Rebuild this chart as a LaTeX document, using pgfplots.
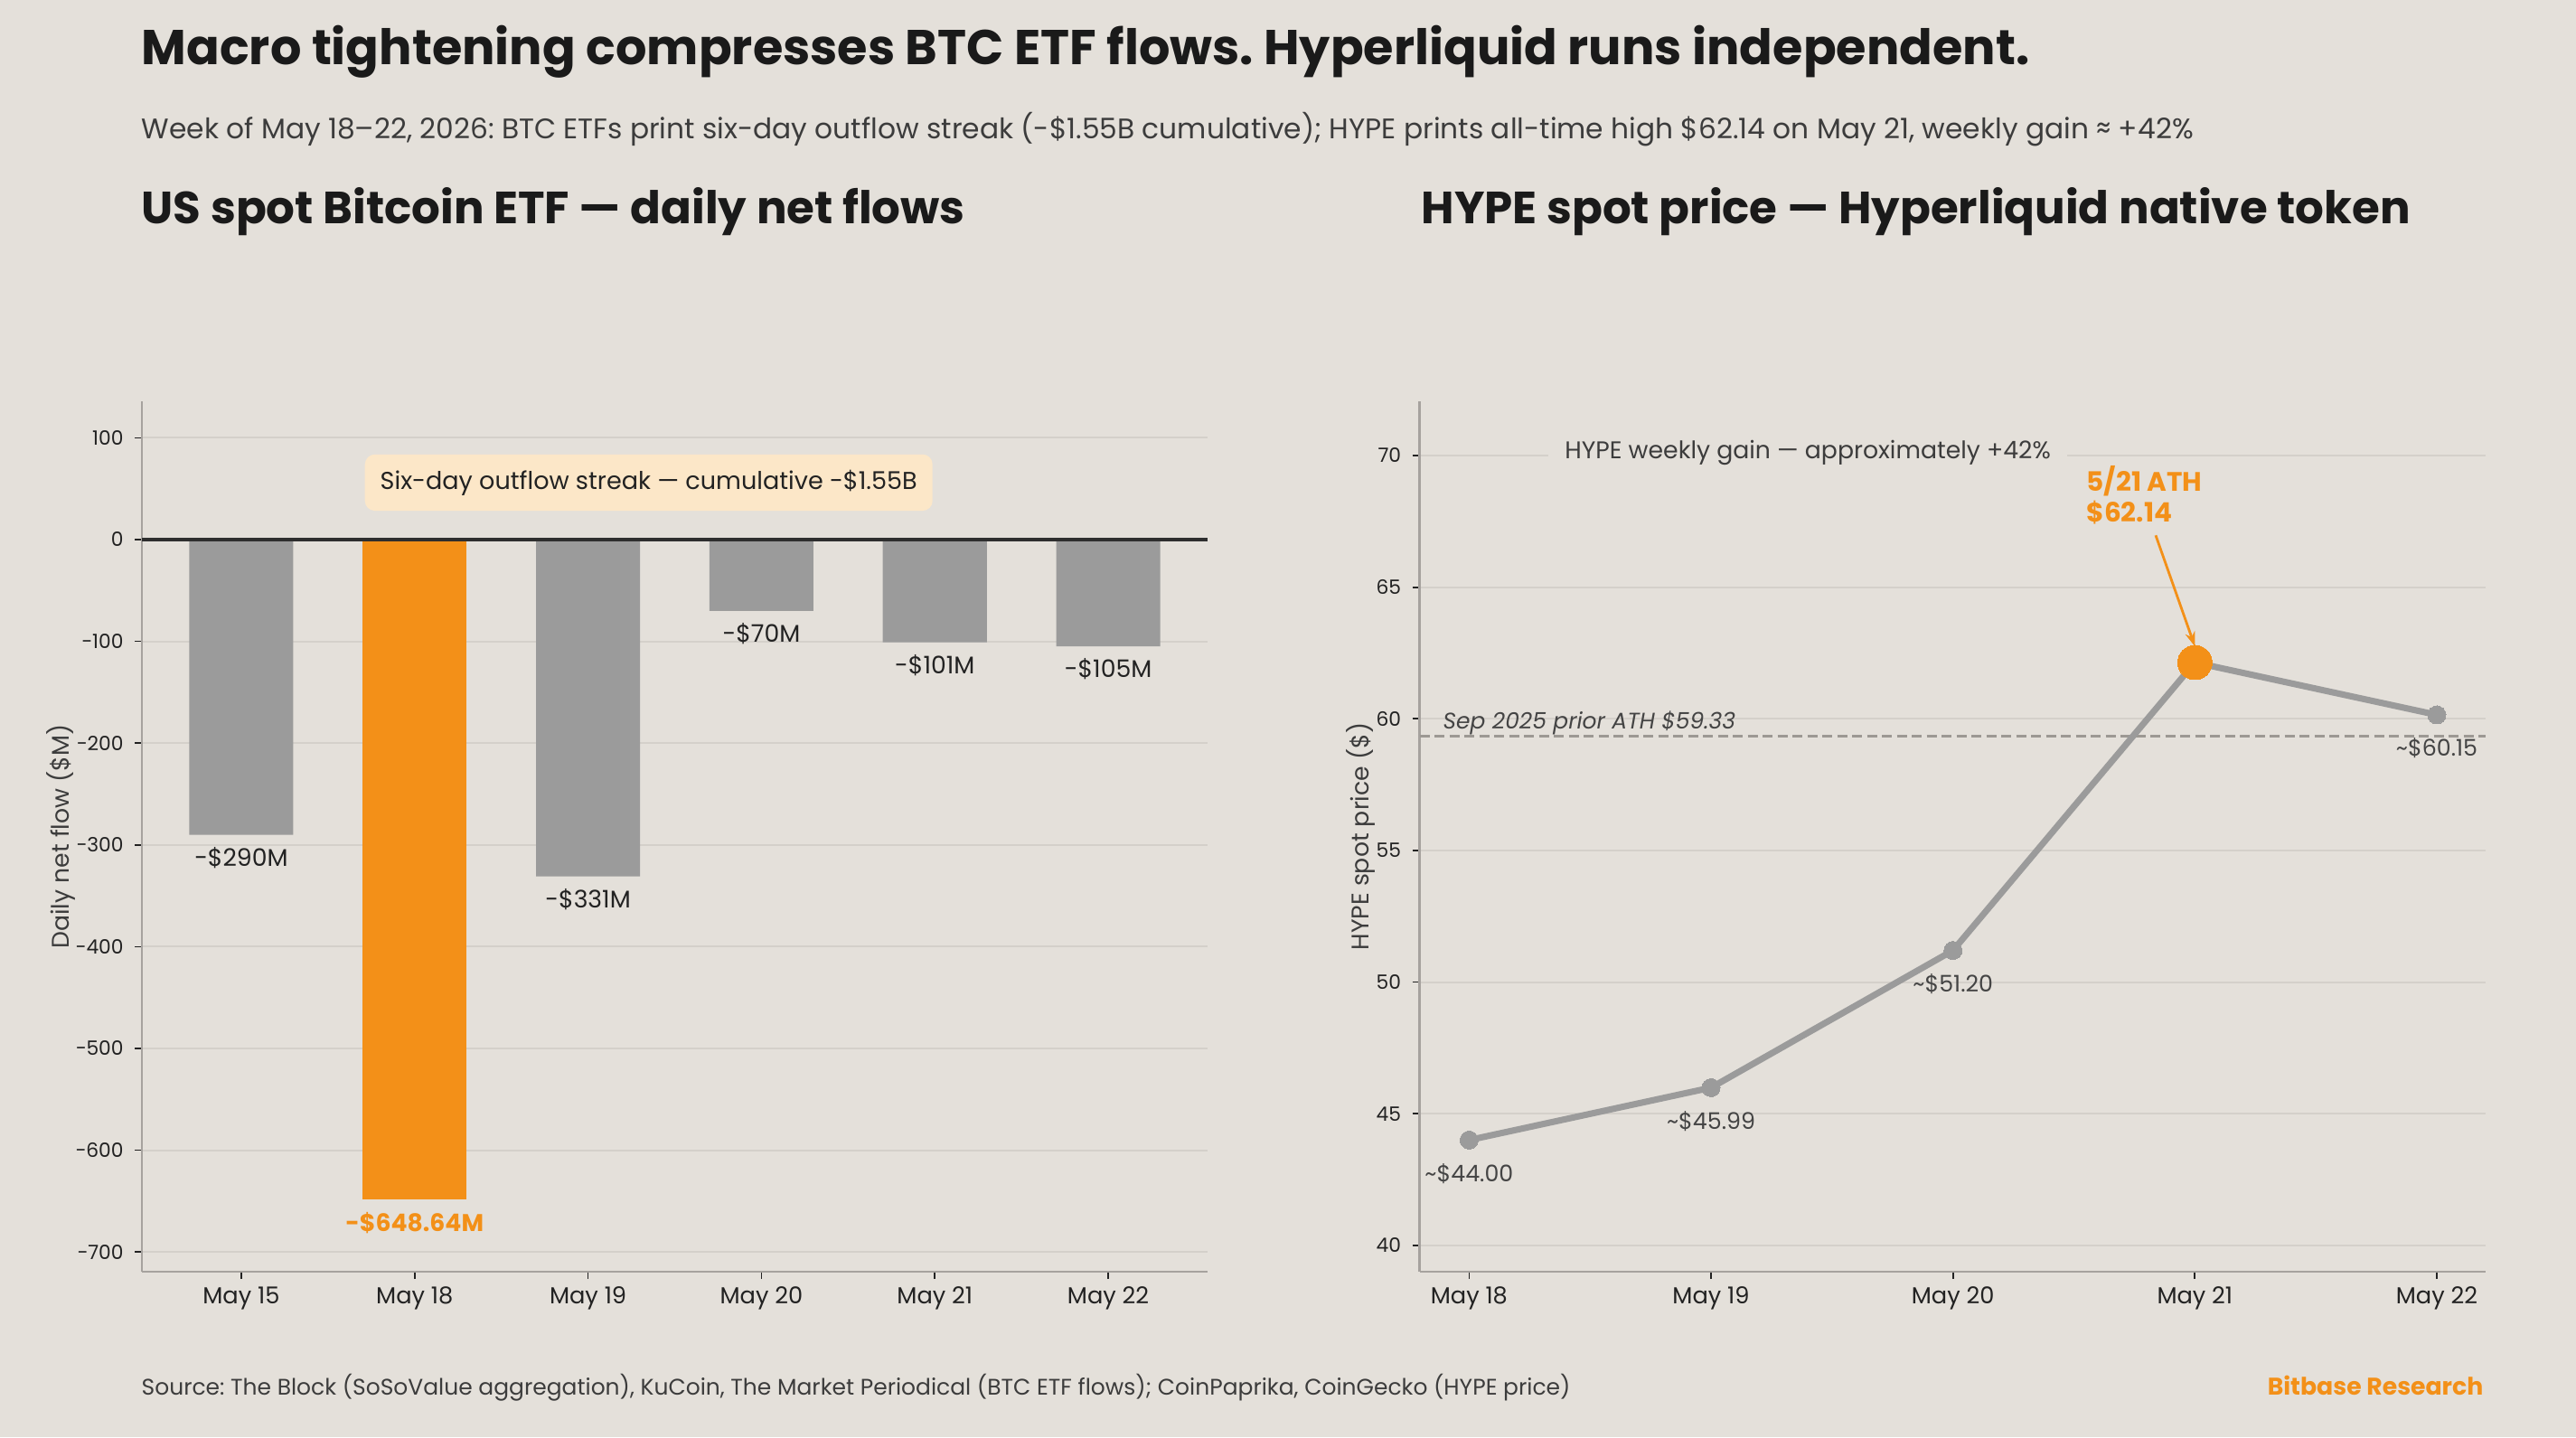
\documentclass[border=0pt]{standalone}
\usepackage{pgfplots}
\pgfplotsset{compat=1.18}
\usepackage{fontspec}
\setmainfont{Poppins}
\usetikzlibrary{arrows.meta}
\frenchspacing

\definecolor{bg}{HTML}{E4E0DA}
\definecolor{barg}{HTML}{9B9B9B}
\definecolor{orangec}{HTML}{F39018}
\definecolor{boxc}{HTML}{FCE7C8}
\definecolor{gridc}{HTML}{D4D0CA}
\definecolor{axisc}{HTML}{A6A29E}
\definecolor{titlec}{HTML}{1A1A1A}
\definecolor{subc}{HTML}{3C3C3C}
\definecolor{tickc}{HTML}{222222}
\definecolor{labc}{HTML}{444444}
\definecolor{zeroc}{HTML}{2E2E2E}
\definecolor{dashc}{HTML}{9C9893}

\pgfplotsset{
  myaxis/.style={
    scale only axis, width=117.9mm, height=96.3mm,
    axis x line*=bottom, axis y line*=left,
    axis line style={-, axisc, line width=0.6pt},
    ymajorgrids, grid style={gridc, line width=0.6pt},
    tick style={tickc, line width=0.5pt}, tick align=outside, major tick length=0.8mm,
    xticklabel style={font=\fontsize{7.3}{8.5}\selectfont, text=tickc, yshift=0.4mm},
    yticklabel style={font=\fontsize{6.2}{7.5}\selectfont, text=tickc},
    /pgf/number format/assume math mode=true,
    ylabel style={font=\fontsize{7.6}{9}\selectfont, text=subc, anchor=center},
    clip=false,
  }
}

\begin{document}
\begin{tikzpicture}
\fill[bg] (0,0) rectangle (285mm,159mm);
\useasboundingbox (0,0) rectangle (285mm,159mm);

\node[anchor=base west, inner sep=0, text=titlec, font=\fontsize{15.4}{18}\selectfont\bfseries] at (15.6mm,151.8mm) {Macro tightening compresses BTC ETF flows. Hyperliquid runs independent.};
\node[anchor=base west, inner sep=0, text=subc, font=\fontsize{8.9}{11}\selectfont] at (15.6mm,143.6mm) {Week of May 18–22, 2026: BTC ETFs print six-day outflow streak (-\$1.55B cumulative); HYPE prints all-time high \$62.14 on May 21, weekly gain ≈ +42\%};
\node[anchor=base west, inner sep=0, text=titlec, font=\fontsize{14.2}{17}\selectfont\bfseries] at (15.6mm,134.2mm) {US spot Bitcoin ETF — daily net flows};
\node[anchor=base west, inner sep=0, text=titlec, font=\fontsize{14.2}{17}\selectfont\bfseries] at (157.2mm,134.2mm) {HYPE spot price — Hyperliquid native token};
\node[anchor=base west, inner sep=0, text=subc, font=\fontsize{7.1}{9}\selectfont] at (15.6mm,4.7mm) {Source: The Block (SoSoValue aggregation), KuCoin, The Market Periodical (BTC ETF flows); CoinPaprika, CoinGecko (HYPE price)};
\node[anchor=base east, inner sep=0, text=orangec, font=\fontsize{7.6}{9}\selectfont\bfseries] at (274.8mm,4.7mm) {Bitbase Research};

% Left panel
\begin{axis}[myaxis, at={(15.7mm,18.3mm)}, anchor=south west,
  xmin=-0.573, xmax=5.573, ymin=-719.4, ymax=135.9,
  xtick={0,1,2,3,4,5}, xticklabels={May 15,May 18,May 19,May 20,May 21,May 22},
  ytick={-700,-600,-500,-400,-300,-200,-100,0,100},
  yticklabels={−700,−600,−500,−400,−300,−200,−100,0,100},
  ylabel={Daily net flow (\$M)},
  ylabel style={at={(axis description cs:-0.0763,0.5)}},
]
\addplot[ybar, bar width=0.6, bar shift=0pt, fill=barg, draw=none] coordinates {(0,-290) (2,-331) (3,-70) (4,-101) (5,-105)};
\addplot[ybar, bar width=0.6, bar shift=0pt, fill=orangec, draw=none] coordinates {(1,-648.64)};
\addplot[zeroc, line width=0.9pt] coordinates {(-0.573,0) (5.573,0)};
\node[anchor=north, inner sep=0, yshift=-1.3mm, text=tickc, font=\fontsize{7.6}{9}\selectfont] at (axis cs:0,-290) {-\$290M};
\node[anchor=north, inner sep=0, yshift=-1.3mm, text=orangec, font=\fontsize{7.6}{9}\selectfont\bfseries] at (axis cs:1,-648.64) {-\$648.64M};
\node[anchor=north, inner sep=0, yshift=-1.3mm, text=tickc, font=\fontsize{7.6}{9}\selectfont] at (axis cs:2,-331) {-\$331M};
\node[anchor=north, inner sep=0, yshift=-1.3mm, text=tickc, font=\fontsize{7.6}{9}\selectfont] at (axis cs:3,-70) {-\$70M};
\node[anchor=north, inner sep=0, yshift=-1.3mm, text=tickc, font=\fontsize{7.6}{9}\selectfont] at (axis cs:4,-101) {-\$101M};
\node[anchor=north, inner sep=0, yshift=-1.3mm, text=tickc, font=\fontsize{7.6}{9}\selectfont] at (axis cs:5,-105) {-\$105M};
\node[fill=boxc, rounded corners=1.1mm, inner xsep=1.7mm, inner ysep=1.7mm, text=tickc, font=\fontsize{7.7}{9.5}\selectfont] at (axis cs:2.35,56) {Six-day outflow streak — cumulative -\$1.55B};
\end{axis}

% Right panel
\begin{axis}[myaxis, at={(157.05mm,18.3mm)}, anchor=south west,
  xmin=-0.205, xmax=4.2, ymin=39.0, ymax=72.06,
  xtick={0,1,2,3,4}, xticklabels={May 18,May 19,May 20,May 21,May 22},
  ytick={40,45,50,55,60,65,70},
  ylabel={HYPE spot price (\$)},
  ylabel style={at={(axis description cs:-0.0555,0.5)}},
]
\addplot[dashc, line width=0.8pt, dash pattern=on 1.1mm off 0.55mm] coordinates {(-0.205,59.33) (4.2,59.33)};
\addplot[barg, line width=2pt, mark=*, mark size=1mm, mark options={fill=barg, draw=barg, line width=0pt}] coordinates {(0,44.00) (1,45.99) (2,51.20) (3,62.14) (4,60.15)};
\addplot[only marks, mark=*, mark size=1.9mm, mark options={fill=orangec, draw=orangec, line width=0pt}] coordinates {(3,62.14)};
\node[anchor=north, inner sep=0, yshift=-2.5mm, text=labc, font=\fontsize{7.2}{9}\selectfont] at (axis cs:0,44.00) {\textasciitilde\$44.00};
\node[anchor=north, inner sep=0, yshift=-2.5mm, text=labc, font=\fontsize{7.2}{9}\selectfont] at (axis cs:1,45.99) {\textasciitilde\$45.99};
\node[anchor=north, inner sep=0, yshift=-2.5mm, text=labc, font=\fontsize{7.2}{9}\selectfont] at (axis cs:2,51.20) {\textasciitilde\$51.20};
\node[anchor=north, inner sep=0, yshift=-2.5mm, text=labc, font=\fontsize{7.2}{9}\selectfont] at (axis cs:4,60.15) {\textasciitilde\$60.15};
\node[anchor=base west, inner sep=0, yshift=0.8mm, text=labc, font=\fontsize{7.1}{9}\selectfont\itshape] at (axis cs:-0.11,59.33) {Sep 2025 prior ATH \$59.33};
\node[fill=bg, inner xsep=1.8mm, inner ysep=0.8mm, text=subc, font=\fontsize{7.6}{9}\selectfont] at (axis cs:1.40,70.1) {HYPE weekly gain — approximately +42\%};
\node[anchor=west, align=left, inner sep=0, text=orangec, font=\fontsize{8.4}{9.8}\selectfont\bfseries] at (axis cs:2.55,68.5) {5/21 ATH\\\$62.14};
\draw[orangec, line width=0.8pt, -{Stealth[length=1.6mm, width=1.1mm]}] (axis cs:2.838,66.97) -- (axis cs:3.0,62.75);
\end{axis}
\end{tikzpicture}
\end{document}
